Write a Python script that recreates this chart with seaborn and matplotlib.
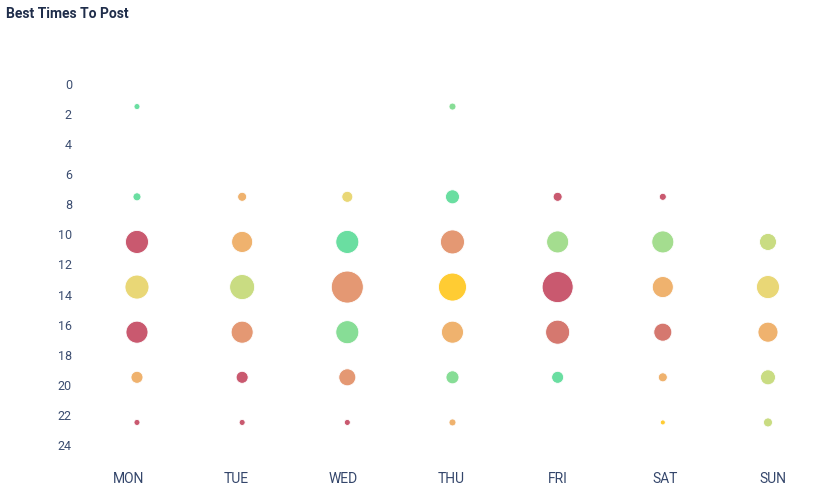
import numpy as np
import pandas as pd
import matplotlib
matplotlib.use("Agg")
import matplotlib.pyplot as plt
import seaborn as sns

days = ["MON", "TUE", "WED", "THU", "FRI", "SAT", "SUN"]
hours = [1.5, 7.5, 10.5, 13.5, 16.5, 19.5, 22.5]

# bubble score (area-like) per hour slot, None = no bubble
mon = [36, 64, 529, 576, 484, 144, 36]
tue = [None, 81, 441, 625, 484, 144, 36]
wed = [None, 121, 529, 1024, 529, 289, 36]
thu = [49, 196, 576, 784, 484, 169, 49]
fri = [None, 81, 484, 961, 576, 144, None]
sat = [None, 49, 484, 441, 324, 81, 25]
sun = [None, None, 289, 529, 400, 225, 81]

# colour tone per bubble
mon_tone = ["T", "T", "R", "Y", "R", "O", "R"]
tue_tone = [None, "O", "O", "YG", "OB", "R", "R"]
wed_tone = [None, "Y", "T", "OB", "G", "OB", "R"]
thu_tone = ["G", "T", "OB", "GY", "O", "G", "O"]
fri_tone = [None, "R", "LG", "R", "SR", "T", None]
sat_tone = [None, "R", "LG", "O", "SR", "O", "GY"]
sun_tone = [None, None, "YG", "Y", "O", "YG", "YG"]

tone_colors = {
    "R": "#c9596f",
    "SR": "#d5786f",
    "OB": "#e49873",
    "O": "#efb26e",
    "Y": "#e9d776",
    "GY": "#ffcc33",
    "YG": "#c9dc82",
    "LG": "#a4dd8f",
    "G": "#87dd96",
    "T": "#6adea1",
}

ytick_vals = list(range(0, 25, 2))

rows = []
for d, vals, tones in zip(days,
                          [mon, tue, wed, thu, fri, sat, sun],
                          [mon_tone, tue_tone, wed_tone, thu_tone, fri_tone, sat_tone, sun_tone]):
    for h, v, t in zip(hours, vals, tones):
        if v is not None:
            rows.append({"day": d, "hour": h, "score": v, "tone": t})
df = pd.DataFrame(rows)
df["x"] = df["day"].map({d: i for i, d in enumerate(days)})

sns.set_theme(style="white")
plt.rcParams["font.family"] = ["Roboto", "DejaVu Sans"]

W, H = 818, 496
fig = plt.figure(figsize=(W / 100, H / 100), dpi=100)
ax = fig.add_axes([84.4 / W, (H - 465) / H, (815.3 - 84.4) / W, (465 - 46.4) / H])

maxv = 1024
sns.scatterplot(data=df, x="x", y="hour", hue="tone", palette=tone_colors,
                size="score", sizes=(0, 0.5184 * maxv), size_norm=(0, maxv),
                edgecolor="white", linewidth=0.6, alpha=1.0, legend=False, ax=ax)

ax.set_xlim(-0.5, 6.45)
ax.set_ylim(25.33, -2.5)
# category labels sit on a slightly wider grid than the bubbles
ax.set_xticks(np.arange(len(days)) * 1.02 - 0.076)
ax.set_xticklabels(days)
ax.set_yticks(ytick_vals)
ax.set_yticklabels([str(v) for v in ytick_vals])
ax.set_xlabel("")
ax.set_ylabel("")
for s in ax.spines.values():
    s.set_visible(False)
ax.tick_params(axis="y", length=0, pad=9, labelsize=9, labelcolor="#3b4d70")
ax.tick_params(axis="x", length=0, pad=5, labelsize=10, labelcolor="#34466b")

fig.text(6 / W, 1 - 14 / H, "Best Times To Post", fontsize=10, fontweight="bold",
         color="#1f2d4a", va="center", ha="left")

fig.savefig("out.png", dpi=100)
